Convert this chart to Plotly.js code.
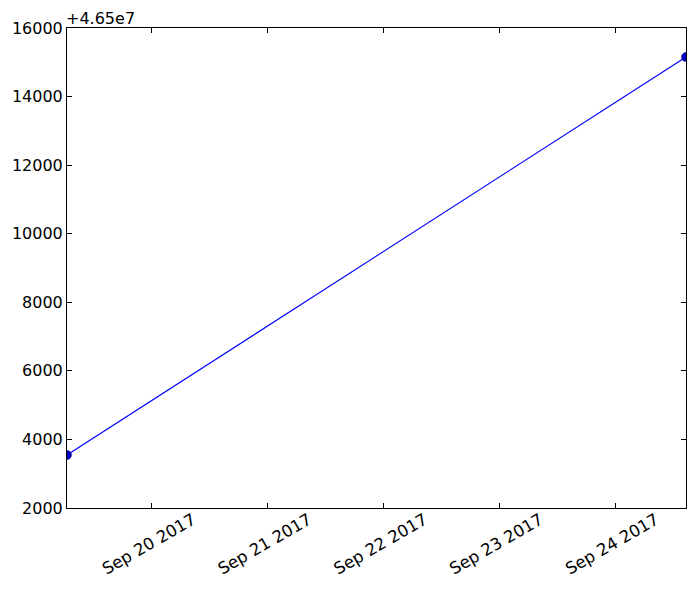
<!DOCTYPE html>
<html>
<head>
<meta charset="utf-8">
<script src="https://cdn.plot.ly/plotly-3.0.1.min.js"></script>
<style>html,body{margin:0;padding:0;background:#fff;}#chart{width:695px;height:591px;}</style>
</head>
<body>
<div id="chart"></div>
<script>
// Data
const dates = ["2017-09-19 06:24:00", "2017-09-24 14:42:00"];
const values = [46503546, 46515154];
const yOffset = 46500000;
const yOffsetLabel = "+4.65e7";
const yTicks = [2000, 4000, 6000, 8000, 10000, 12000, 14000, 16000];
const xTickDates = ["2017-09-20", "2017-09-21", "2017-09-22", "2017-09-23", "2017-09-24"];
const xTickLabels = ["Sep 20 2017", "Sep 21 2017", "Sep 22 2017", "Sep 23 2017", "Sep 24 2017"];

const font = {family: "DejaVu Sans", size: 16, color: "#000"};
const xfont = {family: "DejaVu Sans", size: 16.5, color: "#000"};

const trace = {
  x: dates, y: values, type: "scatter", mode: "lines+markers",
  line: {color: "#0000ff", width: 1.1},
  marker: {color: "#0000bf", size: 9, line: {color: "#000080", width: 0.5}},
  cliponaxis: true, showlegend: false
};

const layout = {
  width: 695, height: 591,
  margin: {l: 66.5, r: 8.5, t: 28.3, b: 82.7},
  paper_bgcolor: "#fff", plot_bgcolor: "#fff",
  font: font,
  xaxis: {
    type: "date", range: [dates[0], dates[1]],
    tickvals: xTickDates, ticktext: xTickLabels, tickangle: -30,
    ticks: "inside", ticklen: 5, tickcolor: "#000", tickwidth: 1,
    showline: true, linecolor: "#000", linewidth: 1, mirror: "allticks",
    showgrid: false, zeroline: false, tickfont: xfont, ticklabelshift: 41, ticklabelstandoff: -5
  },
  yaxis: {
    range: [yOffset + yTicks[0], yOffset + yTicks[yTicks.length - 1]],
    tickvals: yTicks.map(v => v + yOffset), ticktext: yTicks.map(String),
    ticks: "inside", ticklen: 5, tickcolor: "#000", tickwidth: 1,
    showline: true, linecolor: "#000", linewidth: 1, mirror: "allticks",
    showgrid: false, zeroline: false, tickfont: font
  },
  annotations: [{
    text: yOffsetLabel, xref: "paper", yref: "paper", x: 0, y: 1,
    xanchor: "left", yanchor: "bottom", showarrow: false, font: font, xshift: -3, yshift: -2
  }]
};

Plotly.newPlot("chart", [trace], layout, {staticPlot: true, displayModeBar: false});
</script>
</body>
</html>
